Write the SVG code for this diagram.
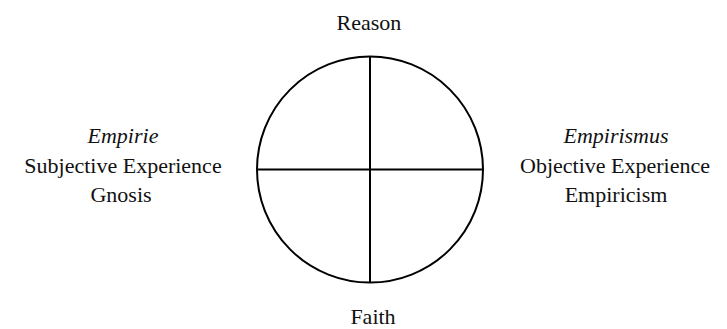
<svg xmlns="http://www.w3.org/2000/svg" width="727" height="329" viewBox="0 0 727 329" font-family="Liberation Serif, Times New Roman, serif">
<style>
text{font-size:22px;fill:#111;text-anchor:middle}
.i{font-style:italic}
.s{fill:none;stroke:#000;stroke-width:2}
</style>
<rect width="727" height="329" fill="#fff"/>
<g id="circle">
<circle class="s" cx="370" cy="169.5" r="113"/>
</g>
<g id="connectors">
<line class="s" x1="370" y1="56.5" x2="370" y2="282.5"/>
<line class="s" x1="257" y1="169.5" x2="483" y2="169.5"/>
</g>
<g id="reason"><text x="369" y="30">Reason</text></g>
<g id="faith"><text x="373" y="324">Faith</text></g>
<g id="left">
<text class="i" x="123" y="143">Empirie</text>
<text x="123" y="173">Subjective Experience</text>
<text x="121" y="202">Gnosis</text>
</g>
<g id="right">
<text class="i" x="616" y="143">Empirismus</text>
<text x="615" y="173">Objective Experience</text>
<text x="616" y="202">Empiricism</text>
</g>
</svg>
